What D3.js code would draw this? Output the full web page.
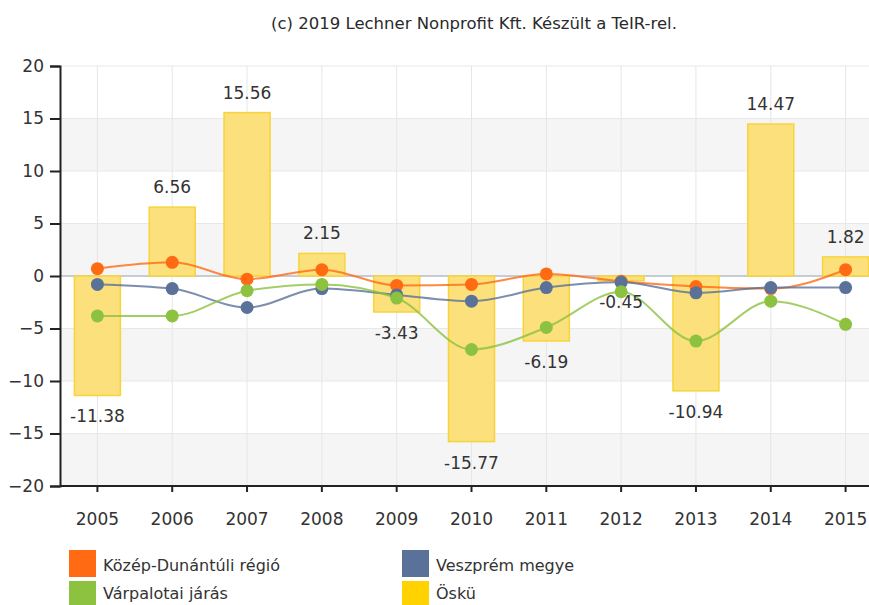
<!DOCTYPE html>
<head>
    <meta charset="utf-8">
    <script src="https://d3js.org/d3.v7.min.js"></script>
    <style>
        body { margin: 0; background: white; }
        text { font-family: "DejaVu Sans", Verdana, sans-serif; fill: #333; }
    </style>
</head>
<body>
<script>

    var years = ["2005", "2006", "2007", "2008", "2009", "2010", "2011", "2012", "2013", "2014", "2015"];
    var yTicks = [20, 15, 10, 5, 0, -5, -10, -15, -20];

    // bars
    var osku = [-11.38, 6.56, 15.56, 2.15, -3.43, -15.77, -6.19, -0.45, -10.94, 14.47, 1.82];
    // lines
    var regio = [0.7, 1.3, -0.3, 0.6, -0.9, -0.8, 0.2, -0.5, -1.0, -1.2, 0.6];
    var megye = [-0.8, -1.2, -3.0, -1.2, -1.8, -2.4, -1.1, -0.6, -1.6, -1.1, -1.1];
    var jaras = [-3.8, -3.8, -1.4, -0.8, -2.1, -7.0, -4.9, -1.5, -6.2, -2.4, -4.6];

    var seriesNames = ["Közép-Dunántúli régió", "Veszprém megye", "Várpalotai járás", "Öskü"];
    var colors = ["#ff6a13", "#5a7299", "#8cc23f", "#ffd200"];

    var svg = d3.select("body").append("svg")
        .attr("width", 869)
        .attr("height", 605);

    var x = d3.scaleBand().domain(years).range([60, 883]);
    var y = d3.scaleLinear().domain([-20, 20]).range([486, 66]);

    svg.append("text")
        .attr("x", 474).attr("y", 29)
        .attr("text-anchor", "middle")
        .style("font-size", "16.5px")
        .style("fill", "#2a2a2a")
        .text("(c) 2019 Lechner Nonprofit Kft. Készült a TeIR-rel.");

    var plot = svg.append("g");

    // alternating bands
    var bands = [[15, 10], [5, 0], [-5, -10], [-15, -20]];
    plot.selectAll("rect.band").data(bands).enter().append("rect")
        .attr("class", "band")
        .attr("x", 60).attr("width", 823)
        .attr("y", function(d) { return y(d[0]); })
        .attr("height", function(d) { return y(d[1]) - y(d[0]); })
        .attr("fill", "#f5f5f5");

    // grid
    plot.selectAll("line.hg").data(yTicks).enter().append("line")
        .attr("x1", 60).attr("x2", 883)
        .attr("y1", function(d) { return y(d); })
        .attr("y2", function(d) { return y(d); })
        .attr("stroke", function(d) { return d === 0 ? "#c5ccd6" : "#e8e8e8"; })
        .attr("stroke-width", function(d) { return d === 0 ? 2 : 1; });

    plot.selectAll("line.vg").data(years).enter().append("line")
        .attr("x1", function(d) { return x(d) + x.bandwidth() / 2; })
        .attr("x2", function(d) { return x(d) + x.bandwidth() / 2; })
        .attr("y1", y(20)).attr("y2", y(-20))
        .attr("stroke", "#e6e6e6");

    // bars
    var bw = 46;
    plot.selectAll("rect.bar").data(osku).enter().append("rect")
        .attr("x", function(d, i) { return x(years[i]) + x.bandwidth() / 2 - bw / 2; })
        .attr("y", function(d) { return y(Math.max(d, 0)); })
        .attr("width", bw)
        .attr("height", function(d) { return Math.abs(y(d) - y(0)); })
        .attr("fill", "#fbe07c")
        .attr("stroke", "#f7d43c")
        .attr("stroke-width", 1.5);

    // lines
    var lineSeries = [regio, megye, jaras];
    var line = d3.line()
        .x(function(d, i) { return x(years[i]) + x.bandwidth() / 2; })
        .y(function(d) { return y(d); })
        .curve(d3.curveMonotoneX);

    lineSeries.forEach(function(s, k) {
        plot.append("path")
            .attr("d", line(s))
            .attr("fill", "none")
            .attr("stroke", colors[k])
            .attr("stroke-opacity", 0.8)
            .attr("stroke-width", 2);
    });
    lineSeries.forEach(function(s, k) {
        plot.selectAll("circle.s" + k).data(s).enter().append("circle")
            .attr("class", "s" + k)
            .attr("cx", function(d, i) { return x(years[i]) + x.bandwidth() / 2; })
            .attr("cy", function(d) { return y(d); })
            .attr("r", 6.5)
            .attr("fill", colors[k]);
    });

    // bar labels
    plot.selectAll("text.lbl").data(osku).enter().append("text")
        .attr("x", function(d, i) { return x(years[i]) + x.bandwidth() / 2; })
        .attr("y", function(d) { return d >= 0 ? y(d) - 20 : y(d) + 21; })
        .attr("dy", "0.35em")
        .attr("text-anchor", "middle")
        .style("font-size", "17px")
        .text(function(d) { return d; });

    // axes
    var yAxis = svg.append("g")
        .attr("transform", "translate(60,0)")
        .call(d3.axisLeft(y).tickValues(yTicks).tickSize(10).tickPadding(6));
    var xAxis = svg.append("g")
        .attr("transform", "translate(0," + y(-20) + ")")
        .call(d3.axisBottom(x).tickSize(6).tickPadding(21));
    [yAxis, xAxis].forEach(function(a) {
        a.select(".domain").attr("stroke", "#222").attr("stroke-width", 2);
        a.selectAll(".tick line").attr("stroke", "#222").attr("stroke-width", 2);
        a.selectAll(".tick text").style("font-size", "17px").style("font-family", "DejaVu Sans").attr("fill", "#333");
    });
    xAxis.select(".domain").attr("d", "M60,0H883");

    // legend
    var legend = svg.append("g");
    var lx = [69, 402, 69, 402];
    var ly = [550, 550, 581, 581];
    seriesNames.forEach(function(name, i) {
        legend.append("rect")
            .attr("x", lx[i]).attr("y", ly[i])
            .attr("width", 27).attr("height", i < 2 ? 27 : 24)
            .attr("fill", colors[i]);
        legend.append("text")
            .attr("x", lx[i] + 34).attr("y", ly[i] + (i < 2 ? 15 : 12))
            .attr("dy", "0.35em")
            .style("font-size", "16px")
            .text(name);
    });

</script>
</body>
